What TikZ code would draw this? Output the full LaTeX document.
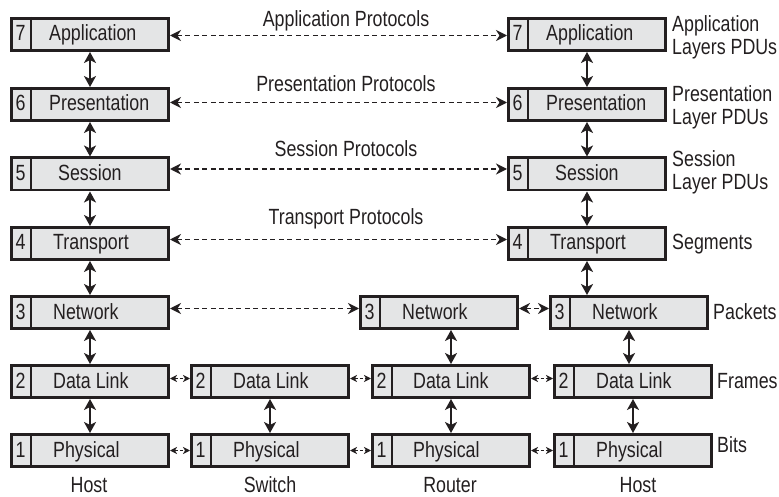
\documentclass[tikz,border=0pt]{standalone}
\usepackage{fontspec}
\setmainfont{Liberation Sans}[FakeStretch=0.81]
\usetikzlibrary{arrows.meta}
\definecolor{ink}{HTML}{231F20}
\definecolor{boxfill}{HTML}{E4E5E6}
\newcommand\osilayer[6]{%
  \node[layerbox] (#1) at (#2+80,#3) {};
  \draw[sepline] ([xshift=21pt]#1.north west) -- ([xshift=21pt]#1.south west);
  \node[txt, anchor=base] (#1-n) at ([xshift=10.5pt,yshift=-6.5pt]#1.west) {#4};
  \node[txt, anchor=base west] (#1-t) at ([xshift=#6pt,yshift=-6.5pt]#1.west) {#5};
}
\begin{document}
\begin{tikzpicture}[x=1pt,y=-1pt,
  layerbox/.style={draw=ink, fill=boxfill, line width=2.8pt, minimum width=157.2pt,
    minimum height=32.2pt, inner sep=0pt, outer sep=1.4pt},
  sepline/.style={draw=ink, line width=2pt},
  txt/.style={font=\fontsize{22pt}{23pt}\selectfont, text=ink, inner sep=0pt},
  varrow/.style={draw=ink, line width=2.8pt,
    {Stealth[length=11pt,width=12pt,inset=3pt]}-{Stealth[length=11pt,width=12pt,inset=3pt]}},
  harrow/.style={draw=ink, line width=1.8pt, dash pattern=on 5pt off 3.5pt,
    {Stealth[length=11pt,width=11pt,inset=3.5pt]}-{Stealth[length=11pt,width=11pt,inset=3.5pt]}},
  sarrow/.style={draw=ink, line width=1.6pt, dash pattern=on 3pt off 2pt,
    {Stealth[length=7pt,width=7pt,inset=2pt]}-{Stealth[length=7pt,width=7pt,inset=2pt]}},
]
\useasboundingbox (0,0) rectangle (779,497);

% Host 1
\osilayer{a7}{10}{34.5}{7}{Application}{39}
\osilayer{a6}{10}{104.5}{6}{Presentation}{39}
\osilayer{a5}{10}{174}{5}{Session}{48}
\osilayer{a4}{10}{243.5}{4}{Transport}{43}
\osilayer{a3}{10}{312.5}{3}{Network}{43}
\osilayer{a2}{10}{381.5}{2}{Data Link}{43}
\osilayer{a1}{10}{450.5}{1}{Physical}{43}
% Switch
\osilayer{s2}{190}{381.5}{2}{Data Link}{43}
\osilayer{s1}{190}{450.5}{1}{Physical}{43}
% Router
\osilayer{r3}{359}{312.5}{3}{Network}{43}
\osilayer{r2}{371}{381.5}{2}{Data Link}{42}
\osilayer{r1}{371}{450.5}{1}{Physical}{42}
% Host 2
\osilayer{b7}{507}{34.5}{7}{Application}{39}
\osilayer{b6}{507}{104.5}{6}{Presentation}{39}
\osilayer{b5}{507}{174}{5}{Session}{48}
\osilayer{b4}{507}{243.5}{4}{Transport}{43}
\osilayer{b3}{549}{312.5}{3}{Network}{43}
\osilayer{b2}{553}{381.5}{2}{Data Link}{43}
\osilayer{b1}{553}{450.5}{1}{Physical}{43}

% vertical arrows
\draw[varrow] (a7.south) -- (a6.north);
\draw[varrow] (a6.south) -- (a5.north);
\draw[varrow] (a5.south) -- (a4.north);
\draw[varrow] (a4.south) -- (a3.north);
\draw[varrow] (a3.south) -- (a2.north);
\draw[varrow] (a2.south) -- (a1.north);
\draw[varrow] (s2.south) -- (s1.north);
\draw[varrow] (r2.north |- r3.south) -- (r2.north);
\draw[varrow] (r2.south) -- (r1.north);
\draw[varrow] (b7.south) -- (b6.north);
\draw[varrow] (b6.south) -- (b5.north);
\draw[varrow] (b5.south) -- (b4.north);
\draw[varrow] (b4.south) -- (b4.south |- b3.north);
\draw[varrow] (b3.south) -- (b3.south |- b2.north);
\draw[varrow] (b2.south) -- (b1.north);

% peer protocol arrows
\draw[harrow] ([yshift=-1pt]a7.east) -- ([yshift=-1pt]b7.west);
\draw[harrow] ([yshift=2pt]a6.east) -- ([yshift=2pt]b6.west);
\draw[harrow] ([yshift=5pt]a5.east) -- ([yshift=5pt]b5.west);
\draw[harrow] ([yshift=4pt]a4.east) -- ([yshift=4pt]b4.west);
\draw[harrow] ([yshift=4pt]a3.east) -- ([yshift=4pt]r3.west);
\draw[harrow] ([yshift=4pt]r3.east) -- ([yshift=4pt]b3.west);
\draw[sarrow] ([yshift=3pt]a2.east) -- ([yshift=3pt]s2.west);
\draw[sarrow] ([yshift=3pt]s2.east) -- ([yshift=3pt]r2.west);
\draw[sarrow] ([yshift=3pt]r2.east) -- ([yshift=3pt]b2.west);
\draw[sarrow] (a1.east) -- (s1.west);
\draw[sarrow] (s1.east) -- (r1.west);
\draw[sarrow] (r1.east) -- (b1.west);

% protocol labels
\node[txt, anchor=base] (p7) at (346,27) {Application Protocols};
\node[txt, anchor=base] (p6) at (346,92) {Presentation Protocols};
\node[txt, anchor=base] (p5) at (346,157) {Session Protocols};
\node[txt, anchor=base] (p4) at (346,225) {Transport Protocols};

% PDU labels
\node[txt, anchor=base west] (u7a) at (672,32) {Application};
\node[txt, anchor=base west] (u7b) at (672,55) {Layers PDUs};
\node[txt, anchor=base west] (u6a) at (672,102) {Presentation};
\node[txt, anchor=base west] (u6b) at (672,125) {Layer PDUs};
\node[txt, anchor=base west] (u5a) at (672,167) {Session};
\node[txt, anchor=base west] (u5b) at (672,190) {Layer PDUs};
\node[txt, anchor=base west] (u4) at (672,250) {Segments};
\node[txt, anchor=base west] (u3) at (713,319) {Packets};
\node[txt, anchor=base west] (u2) at (717,388) {Frames};
\node[txt, anchor=base west] (u1) at (717,452) {Bits};

% device labels
\node[txt, anchor=base] (d1) at (89,492) {Host};
\node[txt, anchor=base] (d2) at (270,492) {Switch};
\node[txt, anchor=base] (d3) at (450,492) {Router};
\node[txt, anchor=base] (d4) at (638,492) {Host};
\end{tikzpicture}
\end{document}
